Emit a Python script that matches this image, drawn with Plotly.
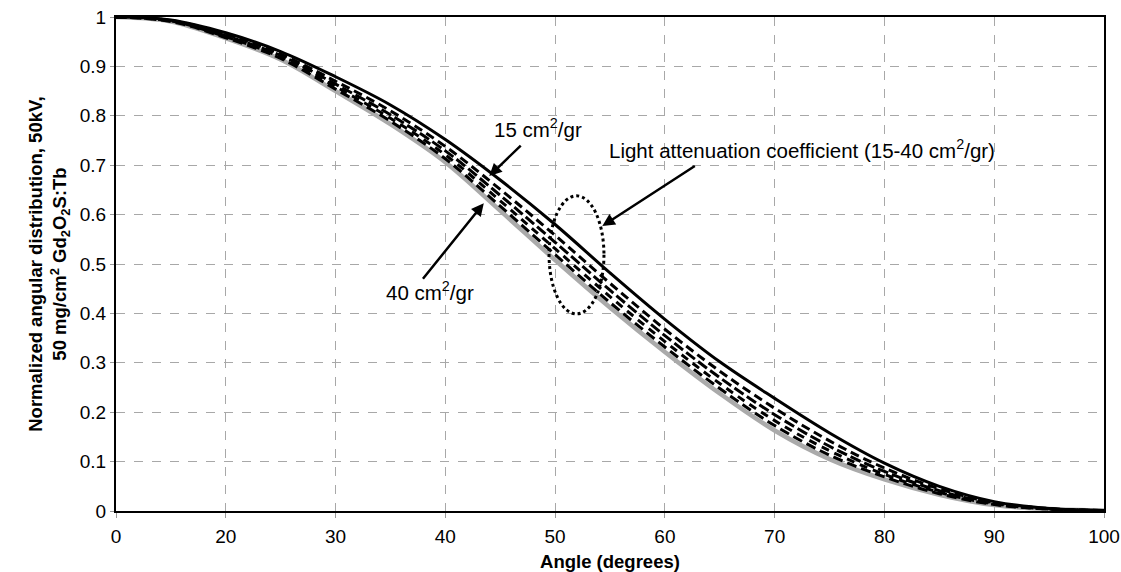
import plotly.graph_objects as go

# axis positions (label "0" sits at position 10 on this chart's axis)
angle_pos = [10, 15, 20, 25, 30, 35, 40, 45, 50, 55, 60, 65, 70, 75, 80, 85, 90, 95, 100]
tick_vals = [10, 20, 30, 40, 50, 60, 70, 80, 90, 100]
tick_text = ["0", "20", "30", "40", "50", "60", "70", "80", "90", "100"]

coef_15 = [1.000, 0.994, 0.968, 0.930, 0.879, 0.822, 0.752, 0.670, 0.580, 0.482, 0.388, 0.302, 0.228, 0.158, 0.097, 0.050, 0.019, 0.005, 0.001]
coef_20 = [1.000, 0.993, 0.965, 0.925, 0.870, 0.810, 0.738, 0.651, 0.558, 0.461, 0.368, 0.283, 0.208, 0.142, 0.087, 0.045, 0.017, 0.005, 0.001]
coef_25 = [1.000, 0.993, 0.962, 0.922, 0.864, 0.802, 0.729, 0.639, 0.544, 0.447, 0.355, 0.270, 0.195, 0.131, 0.080, 0.041, 0.015, 0.004, 0.001]
coef_30 = [1.000, 0.992, 0.960, 0.919, 0.859, 0.795, 0.721, 0.628, 0.531, 0.434, 0.343, 0.258, 0.183, 0.122, 0.074, 0.038, 0.014, 0.004, 0.001]
coef_35 = [1.000, 0.991, 0.958, 0.916, 0.854, 0.789, 0.713, 0.617, 0.519, 0.422, 0.332, 0.248, 0.173, 0.113, 0.069, 0.035, 0.013, 0.004, 0.001]
coef_40 = [1.000, 0.991, 0.957, 0.914, 0.850, 0.783, 0.706, 0.608, 0.508, 0.412, 0.322, 0.238, 0.163, 0.105, 0.064, 0.033, 0.012, 0.004, 0.001]

FONT = "Liberation Sans, Arial, sans-serif"

fig = go.Figure()
fig.add_trace(go.Scatter(x=angle_pos, y=coef_40, mode="lines", line=dict(color="#aaaaaa", width=4.5, shape="spline"), name="40"))
for ys, dsh in zip([coef_35, coef_30, coef_25, coef_20], ["10px,5px", "8px,6px", "11px,4px", "9px,5px"]):
    fig.add_trace(go.Scatter(x=angle_pos, y=ys, mode="lines",
                             line=dict(color="black", width=3, dash=dsh, shape="spline")))
fig.add_trace(go.Scatter(x=angle_pos, y=coef_15, mode="lines", line=dict(color="black", width=3, shape="spline"), name="15"))

# dotted ellipse
fig.add_shape(type="circle", xref="x", yref="y", x0=49.45, x1=54.45, y0=0.399, y1=0.638,
              line=dict(color="black", width=3, dash="dot"))

ann_font = dict(family=FONT, size=20.5, color="black")
fig.add_annotation(x=48.4, y=0.775, text="15 cm<sup>2</sup>/gr", showarrow=False, font=ann_font)
fig.add_annotation(x=38.6, y=0.445, text="40 cm<sup>2</sup>/gr", showarrow=False, font=ann_font)
fig.add_annotation(x=72.5, y=0.733, text="Light attenuation coefficient (15-40 cm<sup>2</sup>/gr)", showarrow=False, font=ann_font)
arrow = dict(showarrow=True, text="", arrowhead=2, arrowsize=1, arrowwidth=2.5, arrowcolor="black")
fig.add_annotation(x=44.0, y=0.678, ax=33, ay=-32, **arrow)
fig.add_annotation(x=43.5, y=0.623, ax=-62, ay=77, **arrow)
fig.add_annotation(x=54.3, y=0.577, ax=94, ay=-61, **arrow)

fig.update_layout(
    width=1121, height=572,
    margin=dict(l=116, r=17, t=17, b=61),
    paper_bgcolor="white", plot_bgcolor="white",
    showlegend=False,
    font=dict(family=FONT, size=19, color="black"),
)
fig.update_xaxes(range=[10, 100], tickvals=tick_vals, ticktext=tick_text,
                 showline=True, linecolor="black", linewidth=2, mirror=True,
                 showgrid=True, gridcolor="#a8a8a8", gridwidth=1, griddash="dash",
                 ticks="outside", ticklen=5, tickcolor="#999999", zeroline=False,
                 tickfont=dict(size=19), ticklabelstandoff=2, ticklabeloverflow="allow",
                 automargin=False,
                 title=dict(text="<b>Angle (degrees)</b>", font=dict(size=18.5), standoff=11))
fig.update_yaxes(range=[0, 1], tickvals=[0, 0.1, 0.2, 0.3, 0.4, 0.5, 0.6, 0.7, 0.8, 0.9, 1],
                 ticktext=["0", "0.1", "0.2", "0.3", "0.4", "0.5", "0.6", "0.7", "0.8", "0.9", "1"],
                 showline=True, linecolor="black", linewidth=2, mirror=True,
                 showgrid=True, gridcolor="#a8a8a8", gridwidth=1, griddash="dash",
                 ticks="outside", ticklen=4, tickcolor="#999999", zeroline=False,
                 tickfont=dict(size=19), automargin=False,
                 title=dict(text="<b>Normalized angular distribution, 50kV,<br>50 mg/cm<sup>2</sup> Gd<sub>2</sub>O<sub>2</sub>S:Tb</b>",
                            font=dict(size=18.5), standoff=8))

fig.write_html("out.html")
